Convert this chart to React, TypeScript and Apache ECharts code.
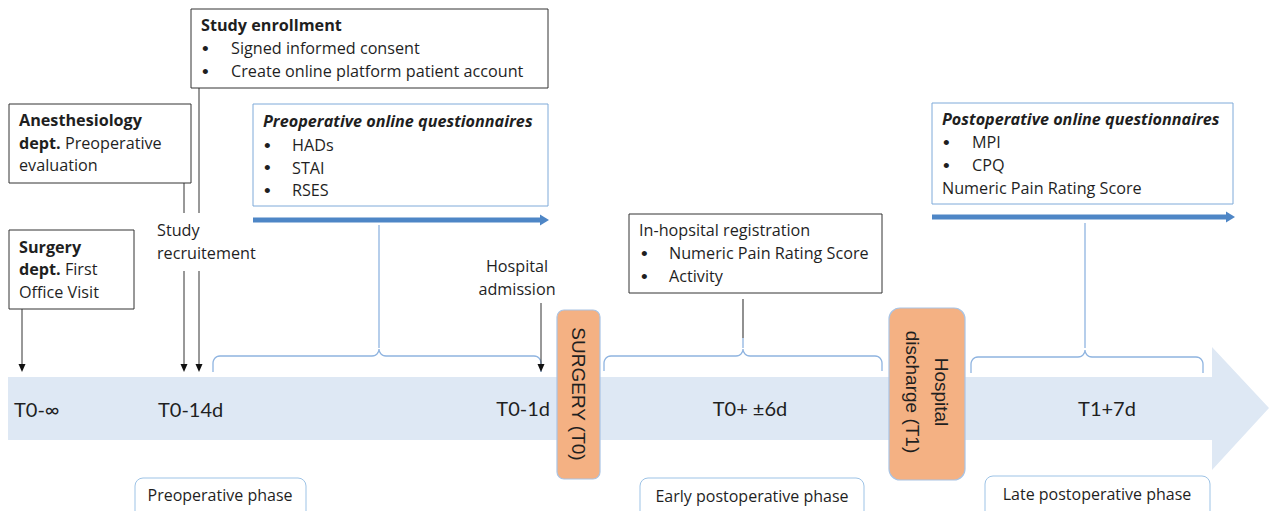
import React, { useEffect, useRef } from "react";
import * as echarts from "echarts";

// ---- content (texts of the timeline diagram) ----
const timeLabels = ["T0-∞", "T0-14d", "T0-1d", "T0+ ±6d", "T1+7d"];
const phaseLabels = ["Preoperative phase", "Early postoperative phase", "Late postoperative phase"];
const enrollmentTitle = "Study enrollment";
const enrollmentItems = ["Signed informed consent", "Create online platform patient account"];
const preopTitle = "Preoperative online questionnaires";
const preopItems = ["HADs", "STAI", "RSES"];
const postopTitle = "Postoperative online questionnaires";
const postopItems = ["MPI", "CPQ"];
const postopExtra = "Numeric Pain Rating Score";
const inHospitalTitle = "In-hopsital registration";
const inHospitalItems = ["Numeric Pain Rating Score", "Activity"];
const milestones = ["SURGERY (T0)", "Hospital\ndischarge (T1)"];
const recruitLabel = ["Study", "recruitement"];
const admissionLabel = ["Hospital", "admission"];

const FONT = "'Open Sans', 'Noto Sans', sans-serif";
const LATO = "Lato, sans-serif";
const ARIAL = "'Liberation Sans', Arial, sans-serif";
const FS = 16.2;
const TXT = "#1f1f1f";
const BLUE_LINE = "#8fb4e0";
const BLUE_BOX = "#7eaad9";
const BLUE_ARROW = "#4e86c6";
const ORANGE = "#f4b183";
const BAND = "#dee8f4";

function txt(x: number, y: number, t: string, o: any = {}) {
  const size = o.size || FS;
  const family = o.family || FONT;
  const style: any = {
    text: t,
    fill: o.fill || TXT,
    fontSize: size,
    fontFamily: family,
    fontWeight: o.weight || "normal",
    fontStyle: o.italic ? "italic" : "normal",
    align: o.align || "left",
    textAlign: o.align || "left",
    verticalAlign: "middle",
    textVerticalAlign: "middle",
  };
  if (o.lh) style.lineHeight = o.lh;
  if (o.rich) style.rich = o.rich;
  return { type: "text", x, y, rotation: o.rotation || 0, z: 20, style };
}

function box(x: number, y: number, w: number, h: number, stroke: string, o: any = {}) {
  return {
    type: "rect",
    z: o.z || 5,
    shape: { x, y, width: w, height: h, r: o.r || 0 },
    style: { fill: o.fill || "#ffffff", stroke, lineWidth: o.lw || 1 },
  };
}

function vline(x: number, y1: number, y2: number, color: string, lw = 1) {
  return {
    type: "line",
    z: 6,
    shape: { x1: x, y1, x2: x, y2 },
    style: { stroke: color, lineWidth: lw },
  };
}

function downArrow(x: number, y1: number, y2: number) {
  return [
    vline(x, y1, y2 - 7, "#333333", 1),
    {
      type: "polygon",
      z: 6,
      shape: { points: [[x - 3.5, y2 - 8], [x + 3.5, y2 - 8], [x, y2]] },
      style: { fill: "#111111" },
    },
  ];
}

function blueArrow(x1: number, x2: number, y: number) {
  return [
    {
      type: "rect",
      z: 6,
      shape: { x: x1, y: y - 2.5, width: x2 - x1 - 8, height: 5 },
      style: { fill: BLUE_ARROW },
    },
    {
      type: "polygon",
      z: 6,
      shape: { points: [[x2 - 9, y - 5.5], [x2, y], [x2 - 9, y + 5.5]] },
      style: { fill: BLUE_ARROW },
    },
  ];
}

function arc(cx: number, cy: number, r: number, a0: number, a1: number) {
  const pts: number[][] = [];
  const n = 6;
  for (let i = 0; i <= n; i++) {
    const a = a0 + ((a1 - a0) * i) / n;
    pts.push([cx + r * Math.cos(a), cy + r * Math.sin(a)]);
  }
  return pts;
}

function brace(x1: number, x2: number, xm: number, y: number, yEnd: number) {
  const r = 7;
  const P = Math.PI;
  const pts: number[][] = [];
  pts.push([x1, yEnd]);
  pts.push(...arc(x1 + r, y + r, r, P, 1.5 * P));
  pts.push(...arc(xm - r, y - r, r, 0.5 * P, 0));
  pts.push(...arc(xm + r, y - r, r, P, 0.5 * P));
  pts.push(...arc(x2 - r, y + r, r, 1.5 * P, 2 * P));
  pts.push([x2, yEnd]);
  return {
    type: "polyline",
    z: 6,
    shape: { points: pts },
    style: { stroke: BLUE_LINE, lineWidth: 1.3, fill: null },
  };
}

function bullets(items: string[], bx: number, tx: number, y0: number, dy: number, o: any = {}) {
  const out: any[] = [];
  items.forEach((it, i) => {
    out.push(txt(bx, y0 + i * dy, "•", { ...o, size: 19, family: ARIAL }));
    out.push(txt(tx, y0 + i * dy, it, o));
  });
  return out;
}

function buildGraphic() {
  const g: any[] = [];
  // big timeline arrow band
  g.push({
    type: "polygon",
    z: 1,
    shape: {
      points: [[8, 377], [1212, 377], [1212, 347], [1269, 408], [1212, 470], [1212, 440], [8, 440]],
    },
    style: { fill: BAND },
  });

  // Study enrollment box
  g.push(box(191, 9, 357, 79, "#333333"));
  g.push(txt(201, 25, enrollmentTitle, { weight: "bold" }));
  g.push(...bullets(enrollmentItems, 202, 231, 48, 23));

  // Anesthesiology box
  g.push(box(9, 104, 182, 79, "#333333"));
  const bRich = {
    b: { fontWeight: "bold", fontFamily: FONT, fontSize: FS, fill: TXT },
    n: { fontWeight: "normal", fontFamily: FONT, fontSize: FS, fill: TXT },
  };
  g.push(txt(19, 120, "Anesthesiology", { weight: "bold" }));
  g.push(txt(19, 143, "{b|dept.}{n| Preoperative}", { rich: bRich }));
  g.push(txt(19, 165, "evaluation"));

  // Surgery dept box
  g.push(box(9, 230, 125, 79, "#333333"));
  g.push(txt(19, 247, "Surgery", { weight: "bold" }));
  g.push(txt(19, 269, "{b|dept.}{n| First}", { rich: bRich }));
  g.push(txt(19, 292, "Office Visit"));

  // Study recruitement label and lines
  g.push(txt(157, 230, recruitLabel[0]));
  g.push(txt(157, 253, recruitLabel[1]));
  g.push(vline(184, 183, 213, "#333333"));
  g.push(vline(199, 88, 213, "#333333"));
  g.push(...downArrow(184, 271, 372));
  g.push(...downArrow(199, 271, 372));
  g.push(...downArrow(22, 309, 372));

  // Preoperative questionnaires
  g.push(box(253, 104, 295, 102, BLUE_BOX));
  g.push(txt(263, 121, preopTitle, { weight: "bold", italic: true }));
  g.push(...bullets(preopItems, 264, 292, 145, 22.5));
  g.push(...blueArrow(253, 549, 220));
  g.push(vline(379, 225, 348, BLUE_LINE, 1.3));
  g.push(brace(213, 541, 379, 356, 372));

  // Hospital admission
  g.push(txt(517, 266, admissionLabel[0], { align: "center" }));
  g.push(txt(517, 289, admissionLabel[1], { align: "center" }));
  g.push(...downArrow(541, 303, 372));

  // In-hospital registration
  g.push(box(629, 214, 253, 79, "#333333"));
  g.push(txt(639, 230, inHospitalTitle));
  g.push(...bullets(inHospitalItems, 641, 669, 253, 23));
  g.push(vline(743, 299, 338, "#555555", 1.3));
  g.push(vline(743, 338, 348, BLUE_LINE, 1.3));
  g.push(brace(604, 882, 743, 356, 371));

  // Postoperative questionnaires
  g.push(box(932, 103, 301, 101, BLUE_BOX));
  g.push(txt(942, 119, postopTitle, { weight: "bold", italic: true }));
  g.push(...bullets(postopItems, 943, 972, 142, 23));
  g.push(txt(942, 188, postopExtra));
  g.push(...blueArrow(932, 1235, 217));
  g.push(vline(1085, 223, 348, BLUE_LINE, 1.3));
  g.push(brace(971, 1203, 1085, 357, 373));

  // Milestone orange boxes
  g.push(box(557, 310, 43, 169, "#a9c4e4", { r: 7, fill: ORANGE, z: 8, lw: 1.2 }));
  g.push(
    txt(578, 394, milestones[0], { rotation: -Math.PI / 2, align: "center", size: 19, family: ARIAL })
  );
  g.push(box(889, 308, 76, 172, "#a9c4e4", { r: 11, fill: ORANGE, z: 8, lw: 1.2 }));
  g.push(
    txt(927, 392, milestones[1], { rotation: -Math.PI / 2, align: "center", size: 19, family: ARIAL, lh: 29 })
  );

  // time labels on band
  g.push(txt(14, 409, timeLabels[0], { size: 20, family: LATO }));
  g.push(txt(158, 409, timeLabels[1], { size: 20, family: LATO }));
  g.push(txt(550, 408, timeLabels[2], { size: 20, align: "right", family: LATO }));
  g.push(txt(750, 408, timeLabels[3], { size: 20, align: "center", family: LATO }));
  g.push(txt(1107, 408, timeLabels[4], { size: 20, align: "center", family: LATO }));

  // phase labels at bottom
  g.push(box(135, 478, 171, 45, "#9dc3e6", { r: 8 }));
  g.push(txt(220, 495, phaseLabels[0], { size: 16, align: "center" }));
  g.push(box(640, 478, 224, 45, "#9dc3e6", { r: 8 }));
  g.push(txt(752, 496, phaseLabels[1], { size: 16, align: "center" }));
  g.push(box(985, 476, 225, 45, "#9dc3e6", { r: 8 }));
  g.push(txt(1097, 494, phaseLabels[2], { size: 16, align: "center" }));

  return g;
}

export default function App() {
  const ref = useRef<HTMLDivElement>(null);
  useEffect(() => {
    if (!ref.current) return;
    const chart = echarts.init(ref.current, undefined, { renderer: "svg" });
    chart.setOption({
      animation: false,
      backgroundColor: "#ffffff",
      graphic: { elements: buildGraphic() },
    });
    return () => chart.dispose();
  }, []);
  return (
    <div
      ref={ref}
      style={{ position: "fixed", left: 0, top: 0, width: 1269, height: 511, background: "#fff" }}
    />
  );
}
